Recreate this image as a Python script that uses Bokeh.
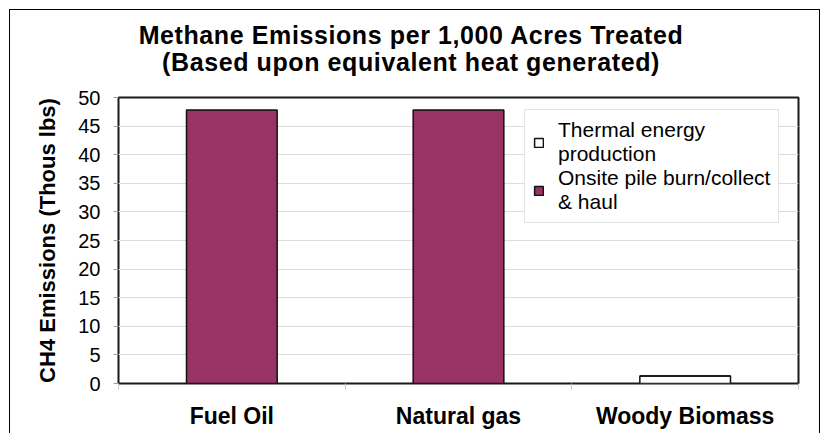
from bokeh.plotting import figure
from bokeh.layouts import column
from bokeh.models import (ColumnDataSource, Range1d, FixedTicker, Legend,
                          LegendItem, Div)
from bokeh.embed import file_html
from bokeh.resources import INLINE

# ---- data ----
title_lines = ["Methane Emissions per 1,000 Acres Treated",
               "(Based upon equivalent heat generated)"]
categories = ["Fuel Oil", "Natural gas", "Woody Biomass"]
series_names = ["Thermal energy\nproduction", "Onsite pile burn/collect\n& haul"]
thermal = [0.0, 0.0, 1.3]
onsite = [47.8, 47.8, 0.0]
y_ticks = [0, 5, 10, 15, 20, 25, 30, 35, 40, 45, 50]
y_label = "CH4 Emissions (Thous lbs)"

FONT = "Liberation Sans"
PURPLE = "#993366"

n = len(categories)
xpos = [i + 0.5 for i in range(n)]
source = ColumnDataSource(dict(x=xpos, cat=categories, thermal=thermal, onsite=onsite))

# ---- title (HTML block above the figure) ----
title_div = Div(
    text='<div style="box-sizing:border-box;width:809px;padding-top:12px;'
         'padding-right:7px;text-align:center;letter-spacing:0.6px;'
         'font-family:\'Liberation Sans\';font-size:25px;font-weight:bold;'
         'line-height:27px;color:black;white-space:nowrap">'
         + "<br>".join(title_lines) + "</div>",
    width=809, height=72, margin=0)

p = figure(width=809, height=351,
           x_range=Range1d(0, n), y_range=Range1d(y_ticks[0], y_ticks[-1]),
           output_backend="svg", toolbar_location=None,
           min_border_left=108, min_border_right=21,
           min_border_top=15, min_border_bottom=50, margin=0)

p.outline_line_color = "#1a1a1a"
p.outline_line_width = 2
p.background_fill_color = "white"
p.border_fill_color = "white"

renderers = p.vbar_stack(["thermal", "onsite"], x="x", width=0.4, source=source,
                         fill_color=["white", PURPLE], line_color="#111111",
                         line_width=1.5)

# ---- axes ----
p.xaxis.ticker = FixedTicker(ticks=xpos, minor_ticks=list(range(n + 1)))
p.xaxis.major_label_overrides = {x: c for x, c in zip(xpos, categories)}
p.xaxis.axis_line_color = None
p.xaxis.major_tick_line_color = None
p.xaxis.major_tick_out = 0
p.xaxis.major_tick_in = 0
p.xaxis.minor_tick_line_color = "#c8c8c8"
p.xaxis.minor_tick_out = 6
p.xaxis.minor_tick_in = 0
p.xaxis.major_label_standoff = 13
p.xaxis.major_label_text_font = FONT
p.xaxis.major_label_text_font_size = "23px"
p.xaxis.major_label_text_font_style = "bold"
p.xaxis.major_label_text_color = "black"

p.yaxis.ticker = FixedTicker(ticks=y_ticks)
p.yaxis.axis_line_color = None
p.yaxis.major_tick_line_color = "#a0a0a0"
p.yaxis.major_tick_out = 5
p.yaxis.major_tick_in = 0
p.yaxis.minor_tick_line_color = None
p.yaxis.major_label_standoff = 13
p.yaxis.major_label_text_font = FONT
p.yaxis.major_label_text_font_size = "20px"
p.yaxis.major_label_text_color = "black"
p.yaxis.axis_label = y_label
p.yaxis.axis_label_text_font = FONT
p.yaxis.axis_label_text_font_size = "22px"
p.yaxis.axis_label_text_font_style = "bold"
p.yaxis.axis_label_text_color = "black"
p.yaxis.axis_label_standoff = 15

p.xgrid.visible = False
p.ygrid.grid_line_color = "#dcdcdc"
p.ygrid.grid_line_width = 1

# ---- legend ----
legend = Legend(items=[LegendItem(label=series_names[i], renderers=[renderers[i]])
                       for i in range(len(series_names))],
                location=(406, 160))
legend.label_text_font = FONT
legend.label_text_font_size = "21px"
legend.label_text_line_height = 1.25
legend.label_text_color = "black"
legend.glyph_width = 11
legend.glyph_height = 11
legend.label_standoff = 14
legend.padding = 8
legend.spacing = 0
legend.margin = 0
legend.border_line_color = "#c8c8c8"
legend.border_line_width = 1
legend.background_fill_color = "white"
legend.background_fill_alpha = 1
p.add_layout(legend)

layout = column(title_div, p, spacing=0, margin=(10, 0, 0, 10),
                styles={"outline": "1px solid black"})

open("out.html", "w").write(file_html(layout, INLINE))
